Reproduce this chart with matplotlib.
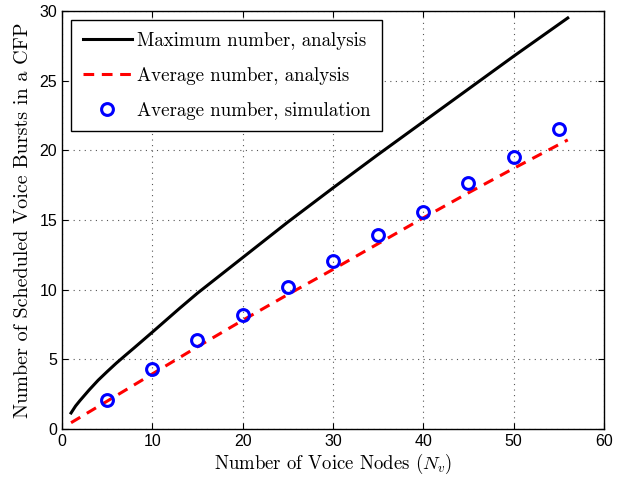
import matplotlib
matplotlib.use('Agg')
import matplotlib.pyplot as plt

plt.rcParams['font.family'] = ['cmr10', 'DejaVu Serif']
plt.rcParams['mathtext.fontset'] = 'cm'
plt.rcParams['axes.unicode_minus'] = False

# 最大数量（分析）
n_max = [1, 1.5, 2, 3, 4, 5, 6, 7, 8, 10, 13, 15, 20, 25, 30, 35, 40, 45, 50, 56]
max_bursts = [1.15, 1.65, 2.05, 2.8, 3.5, 4.12, 4.72, 5.28, 5.83, 6.95, 8.65, 9.75, 12.3, 14.85,
              17.3, 19.7, 22.05, 24.4, 26.75, 29.5]

# 平均数量（分析）
n_avg = [1, 5, 10, 15, 20, 25, 30, 35, 40, 45, 50, 56]
avg_bursts = [0.45, 2.0, 3.95, 5.9, 7.8, 9.65, 11.45, 13.3, 15.15, 16.95, 18.7, 20.75]

# 平均数量（仿真）
n_sim = [5, 10, 15, 20, 25, 30, 35, 40, 45, 50, 55]
sim_bursts = [2.1, 4.28, 6.4, 8.15, 10.2, 12.05, 13.9, 15.6, 17.65, 19.5, 21.55]

fig = plt.figure(figsize=(6.31, 4.79), dpi=100)
ax = fig.add_axes([0.0983, 0.1044, 0.8587, 0.8726])

ax.plot(n_max, max_bursts, color='black', linewidth=2.2, label='Maximum number, analysis')
ax.plot(n_avg, avg_bursts, color='red', linestyle='--', linewidth=2.2, dashes=(3.5, 2.5),
        label='Average number, analysis')
ax.plot(n_sim, sim_bursts, linestyle='none', marker='o', markersize=8.5, markerfacecolor='none',
        markeredgecolor='blue', markeredgewidth=2.2, label='Average number, simulation')

ax.set_xlim(0, 60)
ax.set_ylim(0, 30)
ax.set_xticks(range(0, 61, 10))
ax.set_yticks(range(0, 31, 5))
ax.tick_params(direction='in', top=True, right=True, length=4)
for lab in ax.get_xticklabels() + ax.get_yticklabels():
    lab.set_family(['Liberation Sans', 'DejaVu Sans'])
    lab.set_fontsize(11.5)
ax.grid(True, linestyle=(0, (1, 4)), color='#555555', linewidth=0.8)
for s in ax.spines.values():
    s.set_linewidth(1.0)

ax.set_xlabel('Number of Voice Nodes ($N_v$)', fontsize=13.5, labelpad=2)
ax.set_ylabel('Number of Scheduled Voice Bursts in a CFP', fontsize=14.5, labelpad=5)

leg = ax.legend(loc='upper left', fontsize=13.6, fancybox=False, edgecolor='black',
                framealpha=1, borderaxespad=0.5, borderpad=0.6, handlelength=2.6,
                handletextpad=0.25, labelspacing=0.9)
leg.get_frame().set_linewidth(1.0)

fig.savefig('out.png', dpi=100)
